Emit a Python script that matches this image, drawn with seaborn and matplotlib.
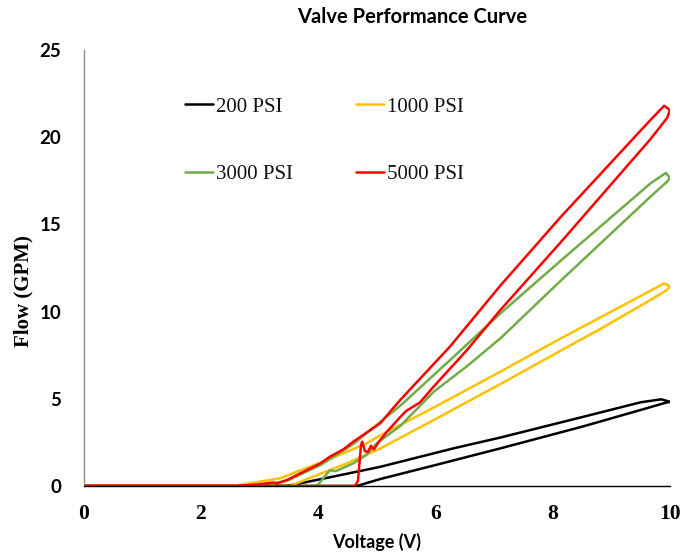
import numpy as np
import pandas as pd
import matplotlib
matplotlib.use("Agg")
import matplotlib.pyplot as plt
from matplotlib.lines import Line2D
import seaborn as sns

# ---------------- data ----------------
pressures = ["200 PSI", "1000 PSI", "3000 PSI", "5000 PSI"]
colors = ["#000000", "#FFC000", "#70AD47", "#FF0000"]

# 200 PSI
v_200_lower = [0.0, 4.66, 5.06, 6.0, 7.11, 8.5, 9.5, 9.9, 10.0]
f_200_lower = [0.0, 0.0, 0.40, 1.20, 2.16, 3.40, 4.36, 4.75, 4.83]
v_200_upper = [10.0, 9.85, 9.5, 8.5, 7.11, 6.31, 5.06, 4.2, 3.47, 0.0]
f_200_upper = [4.83, 4.97, 4.80, 3.95, 2.78, 2.16, 1.10, 0.50, 0.0, 0.0]

# 1000 PSI
v_1000_lower = [0.0, 3.52, 3.92, 4.49, 5.06, 6.08, 7.11, 8.13, 8.81, 9.67, 9.95, 10.0]
f_1000_lower = [0.0, 0.0, 0.54, 1.30, 2.15, 3.98, 5.85, 7.75, 9.00, 10.67, 11.25, 11.45]
v_1000_upper = [10.0, 9.9, 9.67, 9.0, 8.13, 7.11, 6.0, 5.06, 4.8, 4.2, 3.35, 2.55, 0.0]
f_1000_upper = [11.45, 11.62, 11.20, 10.00, 8.45, 6.56, 4.55, 2.90, 2.40, 1.55, 0.44, 0.0, 0.0]

# 3000 PSI
v_3000_lower = [0.0, 3.98, 4.2, 4.3, 4.6, 4.83, 5.0, 5.4, 5.97, 6.55, 7.11, 8.13, 9.67, 9.95, 10.0]
f_3000_lower = [0.0, 0.0, 0.90, 0.85, 1.30, 1.80, 2.45, 3.44, 5.40, 6.90, 8.47, 11.75, 16.60, 17.45, 17.65]
v_3000_upper = [10.0, 9.93, 9.67, 8.13, 7.11, 6.25, 5.4, 4.6, 4.04, 3.47, 3.0, 0.0]
f_3000_upper = [17.65, 17.95, 17.36, 12.90, 9.90, 7.22, 4.60, 2.40, 1.20, 0.30, 0.0, 0.0]

# 5000 PSI
v_5000_lower = [0.0, 4.63, 4.68, 4.73, 4.75, 4.8, 4.85, 4.9, 4.95, 5.06, 5.17, 5.4, 5.5, 5.74,
                5.97, 6.54, 7.11, 8.13, 9.67, 9.95, 10.0]
f_5000_lower = [0.0, 0.0, 0.30, 2.30, 2.54, 2.00, 1.95, 2.30, 2.10, 2.64, 3.10, 3.95, 4.30, 4.80,
                5.70, 7.80, 10.10, 13.95, 19.90, 21.10, 21.55]
v_5000_upper = [10.0, 9.9, 9.67, 8.13, 7.11, 6.25, 5.4, 5.06, 4.6, 4.43, 4.2, 4.04, 3.64, 3.47,
                3.3, 3.24, 3.0, 2.6, 0.0]
f_5000_upper = [21.55, 21.80, 21.00, 15.40, 11.50, 8.00, 4.93, 3.60, 2.54, 2.10, 1.68, 1.30, 0.63, 0.34,
                0.15, 0.20, 0.10, 0.0, 0.0]

x_ticks = [0, 2, 4, 6, 8, 10]
y_ticks = [0, 5, 10, 15, 20, 25]

series = {
    "200 PSI": (v_200_lower + v_200_upper, f_200_lower + f_200_upper),
    "1000 PSI": (v_1000_lower + v_1000_upper, f_1000_lower + f_1000_upper),
    "3000 PSI": (v_3000_lower + v_3000_upper, f_3000_lower + f_3000_upper),
    "5000 PSI": (v_5000_lower + v_5000_upper, f_5000_lower + f_5000_upper),
}
rows = []
for p in pressures:
    vs, fs = series[p]
    for i, (v, f) in enumerate(zip(vs, fs)):
        rows.append({"Voltage": v, "Flow": f, "Pressure": p, "step": i})
df = pd.DataFrame(rows)

# ---------------- figure ----------------
sns.set_theme(style="white")
plt.rcParams["font.family"] = ["Lato", "DejaVu Sans"]

fig = plt.figure(figsize=(6.84, 5.54), dpi=100)
ax = fig.add_axes([83.5 / 684, 1 - 486 / 554, (670 - 83.5) / 684, (486 - 50) / 554])

sns.lineplot(data=df, x="Voltage", y="Flow", hue="Pressure", hue_order=pressures,
             palette=colors, sort=False, estimator=None, units="Pressure",
             linewidth=1.8, legend=False, ax=ax)

ax.set_xlim(0, 10)
ax.set_ylim(0, 25)
ax.set_xticks(x_ticks)
ax.set_yticks(y_ticks)
ax.set_xticklabels([str(t) for t in x_ticks], fontfamily="Liberation Serif",
                   fontweight="bold", fontsize=15.5)
ax.set_yticklabels([str(t) for t in y_ticks], fontfamily="Lato",
                   fontweight="bold", fontsize=13.5)
ax.tick_params(axis="x", length=0, pad=13, colors="black")
ax.tick_params(axis="y", length=0, pad=16, colors="black")

for s in ["top", "right"]:
    ax.spines[s].set_visible(False)
ax.spines["left"].set_color("#8c8c8c")
ax.spines["left"].set_linewidth(1.0)
ax.spines["bottom"].set_color("black")
ax.spines["bottom"].set_linewidth(1.0)
ax.grid(False)

ax.set_xlabel("Voltage (V)", fontfamily="Lato", fontweight="bold", fontsize=13, color="black")
ax.set_ylabel("Flow (GPM)", fontfamily="Liberation Serif", fontweight="bold", fontsize=15, color="black")
ax.xaxis.set_label_coords(0.5, (486 - 533) / 436)
ax.yaxis.set_label_coords((33 - 83.5) / 586.5, (486 - 291) / 436)

fig.text(412 / 684, 1 - 17 / 554, "Valve Performance Curve", ha="center", va="center",
         fontfamily="Lato", fontweight="bold", fontsize=14.5, color="black")

# legend filled row by row: (200, 1000) / (3000, 5000)
leg_order = [0, 2, 1, 3]
handles = [Line2D([0], [0], color=colors[i], linewidth=1.8) for i in leg_order]
labels = [pressures[i] for i in leg_order]
leg = ax.legend(handles, labels, ncol=2, frameon=False, loc="upper left",
                bbox_to_anchor=(185 / 684, 1 - 97 / 554), bbox_transform=fig.transFigure,
                borderaxespad=0, borderpad=0, handlelength=1.35, handletextpad=0.15,
                columnspacing=3.0, labelspacing=2.3,
                prop={"family": "Liberation Serif", "size": 15})
for t in leg.get_texts():
    t.set_color("#111111")

fig.savefig("out.png", dpi=100)
